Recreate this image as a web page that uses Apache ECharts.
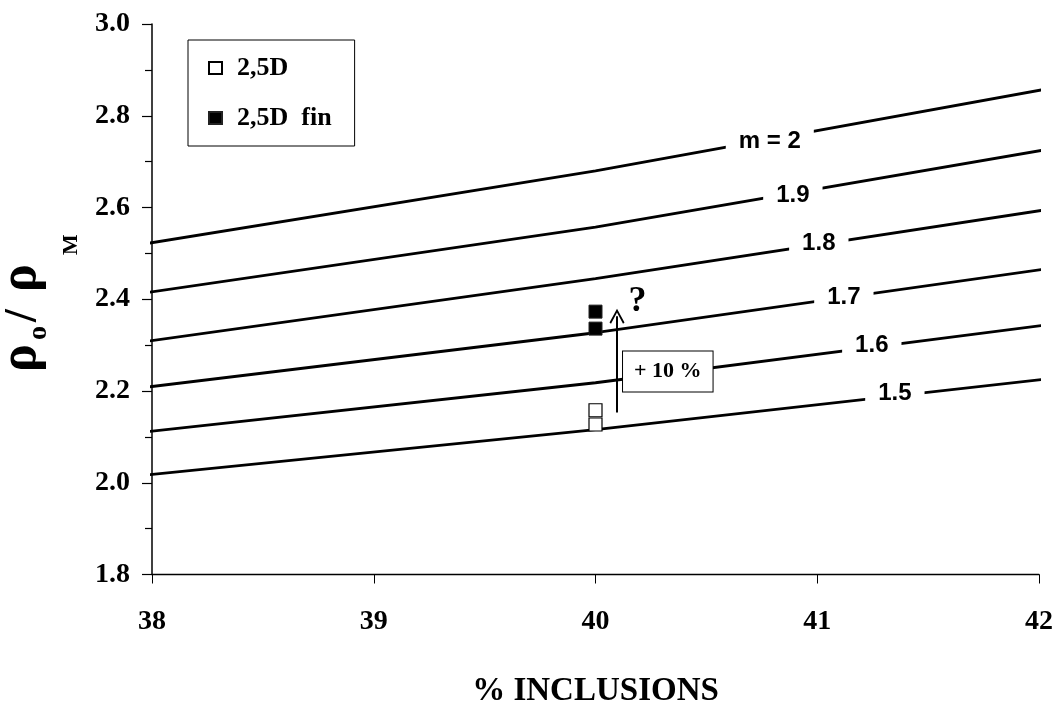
<!DOCTYPE html>
<html><head><meta charset="utf-8">
<script src="https://cdn.jsdelivr.net/npm/echarts@6/dist/echarts.min.js"></script>
<style>html,body{margin:0;padding:0;background:#fff}#c{width:1059px;height:709px}</style>
</head><body><div id="c"></div>
<script>
// ---- data ----
const inclusions = [37.97, 40, 42.03];
const curveM20 = [2.521, 2.680, 2.858];
const curveM19 = [2.414, 2.557, 2.726];
const curveM18 = [2.308, 2.445, 2.595];
const curveM17 = [2.208, 2.327, 2.466];
const curveM16 = [2.111, 2.218, 2.344];
const curveM15 = [2.0165, 2.116, 2.226];
const curveNames = ['m = 2', '1.9', '1.8', '1.7', '1.6', '1.5'];
const curveLabelX = [40.786, 40.89, 41.007, 41.12, 41.246, 41.35];
const curveLabelY = [2.745, 2.626, 2.522, 2.404, 2.300, 2.195];
const pts25D = [[40, 2.127], [40, 2.158]];
const pts25Dfin = [[40, 2.336], [40, 2.373]];
const arrowFrom = [40.097, 2.153];
const arrowTo = [40.097, 2.363];
const questionAt = [40.189, 2.394];
const increaseAt = [40.326, 2.2425];
const increaseText = '+ 10 %';
const xAxisTitle = '% INCLUSIONS';
const seriesNames = ['2,5D', '2,5D  fin'];

const SERIF = '"Liberation Serif", "Times New Roman", serif';
const SANS = '"Liberation Sans", Arial, sans-serif';

const curves = [curveM20, curveM19, curveM18, curveM17, curveM16, curveM15];
const lineSeries = curves.map((ys, k) => ({
  type: 'line', name: curveNames[k], silent: true, clip: false,
  data: inclusions.map((x, i) => [x, ys[i]]),
  symbol: 'none', showSymbol: false,
  lineStyle: { color: '#000', width: 2.8 }, z: 2
}));

const chart = echarts.init(document.getElementById('c'));
chart.setOption({
  animation: false,
  grid: { left: 152, right: 20, top: 24, bottom: 134.5, containLabel: false, outerBoundsMode: 'none' },
  xAxis: {
    type: 'value', min: 38, max: 42, interval: 1,
    name: xAxisTitle, nameLocation: 'middle', nameGap: 100,
    nameTextStyle: { fontFamily: SERIF, fontWeight: 'bold', fontSize: 33, color: '#000' },
    axisLine: { show: true, onZero: false, lineStyle: { color: '#000', width: 1.3 } },
    axisTick: { show: true, length: 9, lineStyle: { color: '#000', width: 1 } },
    splitLine: { show: false },
    axisLabel: { fontFamily: SERIF, fontWeight: 'bold', fontSize: 28, color: '#000', margin: 33 }
  },
  yAxis: {
    type: 'value', min: 1.8, max: 3.0, interval: 0.2,
    axisLine: { show: true, onZero: false, lineStyle: { color: '#000', width: 1.5 } },
    axisTick: { show: true, length: 10, lineStyle: { color: '#000', width: 1.2 } },
    minorTick: { show: true, splitNumber: 2, length: 7, lineStyle: { color: '#000', width: 1.2 } },
    splitLine: { show: false }, minorSplitLine: { show: false },
    axisLabel: { formatter: v => v.toFixed(1), fontFamily: SERIF, fontWeight: 'bold', fontSize: 28, color: '#000', margin: 22 }
  },
  legend: {
    data: seriesNames, orient: 'vertical', left: 188, top: 40,
    padding: [15, 23, 15, 20], itemGap: 24, itemWidth: 13, itemHeight: 12,
    backgroundColor: '#fff', borderColor: '#000', borderWidth: 1,
    textStyle: { fontFamily: SERIF, fontWeight: 'bold', fontSize: 26, color: '#000', padding: [0, 0, 0, 10] },
    selectedMode: false
  },
  graphic: [{
    type: 'group', x: 0, y: 304, rotation: Math.PI / 2,
    children: [
      { type: 'text', x: -68, y: 22, style: { text: 'ρ', font: 'bold 52px ' + SERIF, fill: '#000', align: 'left', verticalAlign: 'middle' } },
      { type: 'text', x: -36, y: 39, style: { text: 'o', font: 'bold 28px ' + SERIF, fill: '#000', align: 'left', verticalAlign: 'middle' } },
      { type: 'text', x: -18, y: 24, style: { text: '/', font: 'bold 46px ' + SERIF, fill: '#000', align: 'left', verticalAlign: 'middle' } },
      { type: 'text', x: 12, y: 22, style: { text: 'ρ', font: 'bold 52px ' + SERIF, fill: '#000', align: 'left', verticalAlign: 'middle' } },
      { type: 'text', x: 49, y: 71, style: { text: 'M', font: 'bold 22px ' + SERIF, fill: '#000', align: 'left', verticalAlign: 'middle' } }
    ]
  }],
  series: lineSeries.concat([
    {
      type: 'scatter', name: 'curveLabels', silent: true, z: 4,
      symbolSize: 1, itemStyle: { color: 'rgba(0,0,0,0)', opacity: 1 },
      data: curveNames.map((n, k) => ({ name: n, value: [curveLabelX[k], curveLabelY[k]] })),
      label: {
        show: true, position: 'inside', formatter: '{b}',
        fontFamily: SANS, fontWeight: 'bold', fontSize: 24, color: '#000',
        backgroundColor: '#fff', padding: [0, 13]
      }
    },
    {
      type: 'scatter', name: seriesNames[0], z: 6, symbol: 'rect', symbolSize: 13,
      itemStyle: { color: '#fff', borderColor: '#000', borderWidth: 1.2, opacity: 1 },
      data: pts25D,
      markLine: {
        silent: true, symbol: ['none', 'path://M10,0 L20,17 L18,18.6 L10,4.6 L2,18.6 L0,17 Z'],
        symbolSize: [15, 15],
        lineStyle: { color: '#000', width: 2, type: 'solid', opacity: 1 },
        itemStyle: { color: '#000', opacity: 1 },
        label: { show: false },
        data: [[{ coord: arrowFrom }, { coord: arrowTo }]]
      }
    },
    {
      type: 'scatter', name: seriesNames[1], z: 6, symbol: 'rect', symbolSize: 13,
      itemStyle: { color: '#000', borderColor: '#222', borderWidth: 1, opacity: 1 },
      data: pts25Dfin
    },
    {
      type: 'scatter', name: 'notes', silent: true, z: 7, symbolSize: 1,
      itemStyle: { color: 'rgba(0,0,0,0)', opacity: 1 },
      data: [
        { name: '?', value: questionAt, label: { fontFamily: SERIF, fontWeight: 'bold', fontSize: 36, color: '#000' } },
        { name: increaseText, value: increaseAt, label: {
          fontFamily: SERIF, fontWeight: 'bold', fontSize: 22, color: '#000',
          backgroundColor: '#fff', borderColor: '#000', borderWidth: 1, padding: [9, 11] } }
      ],
      label: { show: true, position: 'inside', formatter: '{b}' }
    }
  ])
});
</script>
</body></html>
